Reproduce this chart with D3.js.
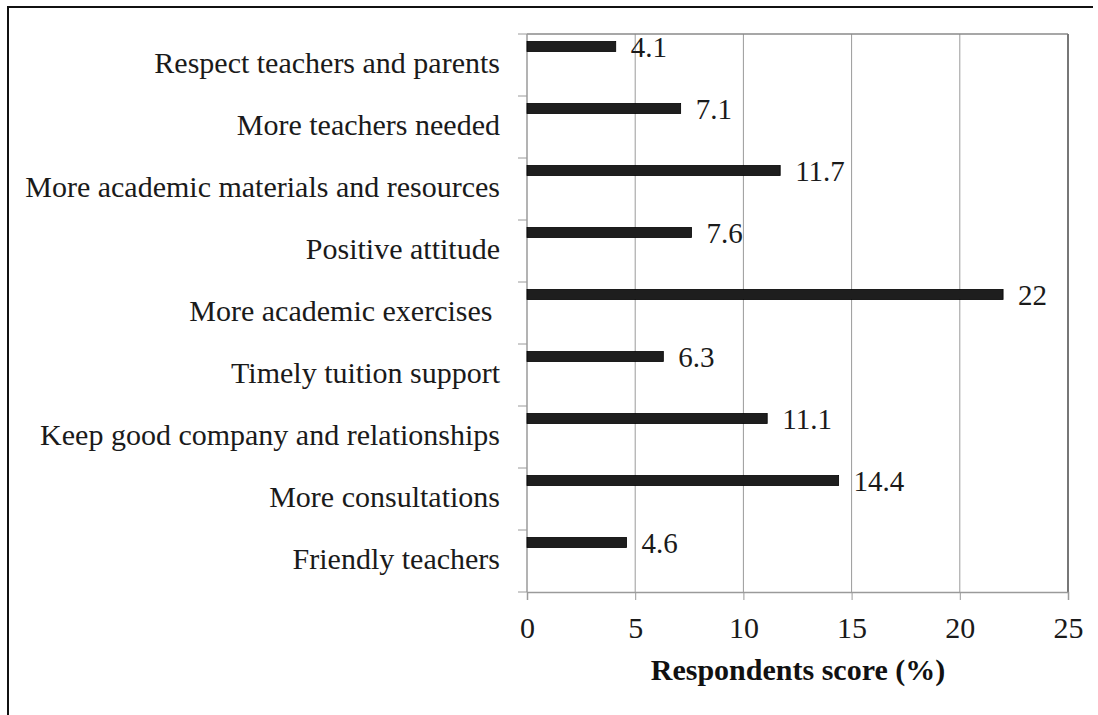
<!DOCTYPE html>
<html>
<head>
<meta charset="utf-8">
<script src="https://cdn.jsdelivr.net/npm/d3@7"></script>
<style>
  body { margin: 0; background: #fff; }
  svg { display: block; }
</style>
</head>
<body>
<div id="chart"></div>
<script>
// chart data
const categories = [
    "Respect teachers and parents",
    "More teachers needed",
    "More academic materials and resources",
    "Positive attitude",
    "More academic exercises ",
    "Timely tuition support",
    "Keep good company and relationships",
    "More consultations",
    "Friendly teachers"
];
const scores = [4.1, 7.1, 11.7, 7.6, 22, 6.3, 11.1, 14.4, 4.6];
const xTicks = [0, 5, 10, 15, 20, 25];
const xTitle = "Respondents score (%)";

const width = 1098;
const height = 715;
const plot = { left: 527, right: 1068, top: 34, bottom: 592 };
const serif = "'Liberation Serif', 'Times New Roman', serif";

const svg = d3.select("#chart")
    .append("svg")
    .attr("width", width)
    .attr("height", height);

// outer frame (left + top only)
svg.append("line")
    .attr("x1", 8).attr("x2", 8)
    .attr("y1", 6).attr("y2", height)
    .attr("stroke", "#111").attr("stroke-width", 2);
svg.append("line")
    .attr("x1", 7).attr("x2", 1093)
    .attr("y1", 7).attr("y2", 7)
    .attr("stroke", "#111").attr("stroke-width", 2);

// scales
const x = d3.scaleLinear().domain([0, 25]).range([plot.left, plot.right]);
const y = d3.scaleBand().domain(categories).range([plot.top, plot.bottom]).padding(0);

// vertical gridlines
svg.append("g")
    .selectAll("line")
    .data(xTicks.slice(1, -1))
    .join("line")
    .attr("x1", d => x(d)).attr("x2", d => x(d))
    .attr("y1", plot.top).attr("y2", plot.bottom)
    .attr("stroke", "#9a9a9a").attr("stroke-width", 1);

// plot border top + right
svg.append("line")
    .attr("x1", plot.left).attr("x2", plot.right)
    .attr("y1", plot.top).attr("y2", plot.top)
    .attr("stroke", "#8a8a8a").attr("stroke-width", 1.5);
svg.append("line")
    .attr("x1", plot.right).attr("x2", plot.right)
    .attr("y1", plot.top).attr("y2", plot.bottom)
    .attr("stroke", "#777").attr("stroke-width", 2);

// x axis
const gx = svg.append("g")
    .attr("transform", `translate(0,${plot.bottom})`)
    .call(d3.axisBottom(x).tickValues(xTicks).tickSize(8).tickPadding(0).tickFormat(d3.format("d")));
gx.select(".domain").attr("stroke", "#9a9a9a").attr("stroke-width", 1.5);
gx.selectAll(".tick line").attr("stroke", "#9a9a9a");
gx.selectAll(".tick text")
    .attr("y", 46).attr("dy", null)
    .style("font-family", serif)
    .style("font-size", "30px")
    .attr("fill", "#1a1a1a");

// y axis (tick marks at band edges, labels at centre)
const gy = svg.append("g");
gy.append("line")
    .attr("x1", plot.left).attr("x2", plot.left)
    .attr("y1", plot.top).attr("y2", plot.bottom)
    .attr("stroke", "#9a9a9a").attr("stroke-width", 1.5);
gy.selectAll(".ytick")
    .data(categories.map(c => y(c)).concat([plot.bottom]))
    .join("line")
    .attr("class", "ytick")
    .attr("x1", plot.left - 9).attr("x2", plot.left)
    .attr("y1", d => d).attr("y2", d => d)
    .attr("stroke", "#9a9a9a");
gy.selectAll("text")
    .data(categories)
    .join("text")
    .attr("x", 500)
    .attr("y", d => y(d) + y.bandwidth() / 2 + 8)
    .attr("text-anchor", "end")
    .attr("fill", "#1a1a1a")
    .style("white-space", "pre")
    .style("font-family", serif)
    .style("font-size", "30px")
    .text(d => d);

// bars
const barOffset = 7.5, barH = 10;
svg.append("g")
    .selectAll("rect")
    .data(scores)
    .join("rect")
    .attr("x", x(0))
    .attr("y", (d, i) => y(categories[i]) + barOffset)
    .attr("width", d => x(d) - x(0))
    .attr("height", barH)
    .attr("fill", "#1e1e1e")
    .attr("stroke", "#000")
    .attr("stroke-width", 0.8);

// value labels
svg.append("g")
    .selectAll("text")
    .data(scores)
    .join("text")
    .attr("x", d => x(d) + 15)
    .attr("y", (d, i) => y(categories[i]) + barOffset + barH / 2 + 10)
    .attr("fill", "#1a1a1a")
    .style("font-family", serif)
    .style("font-size", "29px")
    .text(d => d);

// axis title
svg.append("text")
    .attr("x", 798)
    .attr("y", 680)
    .attr("text-anchor", "middle")
    .attr("fill", "#111")
    .style("font-family", serif)
    .style("font-size", "30px")
    .style("font-weight", "bold")
    .text(xTitle);
</script>
</body>
</html>
